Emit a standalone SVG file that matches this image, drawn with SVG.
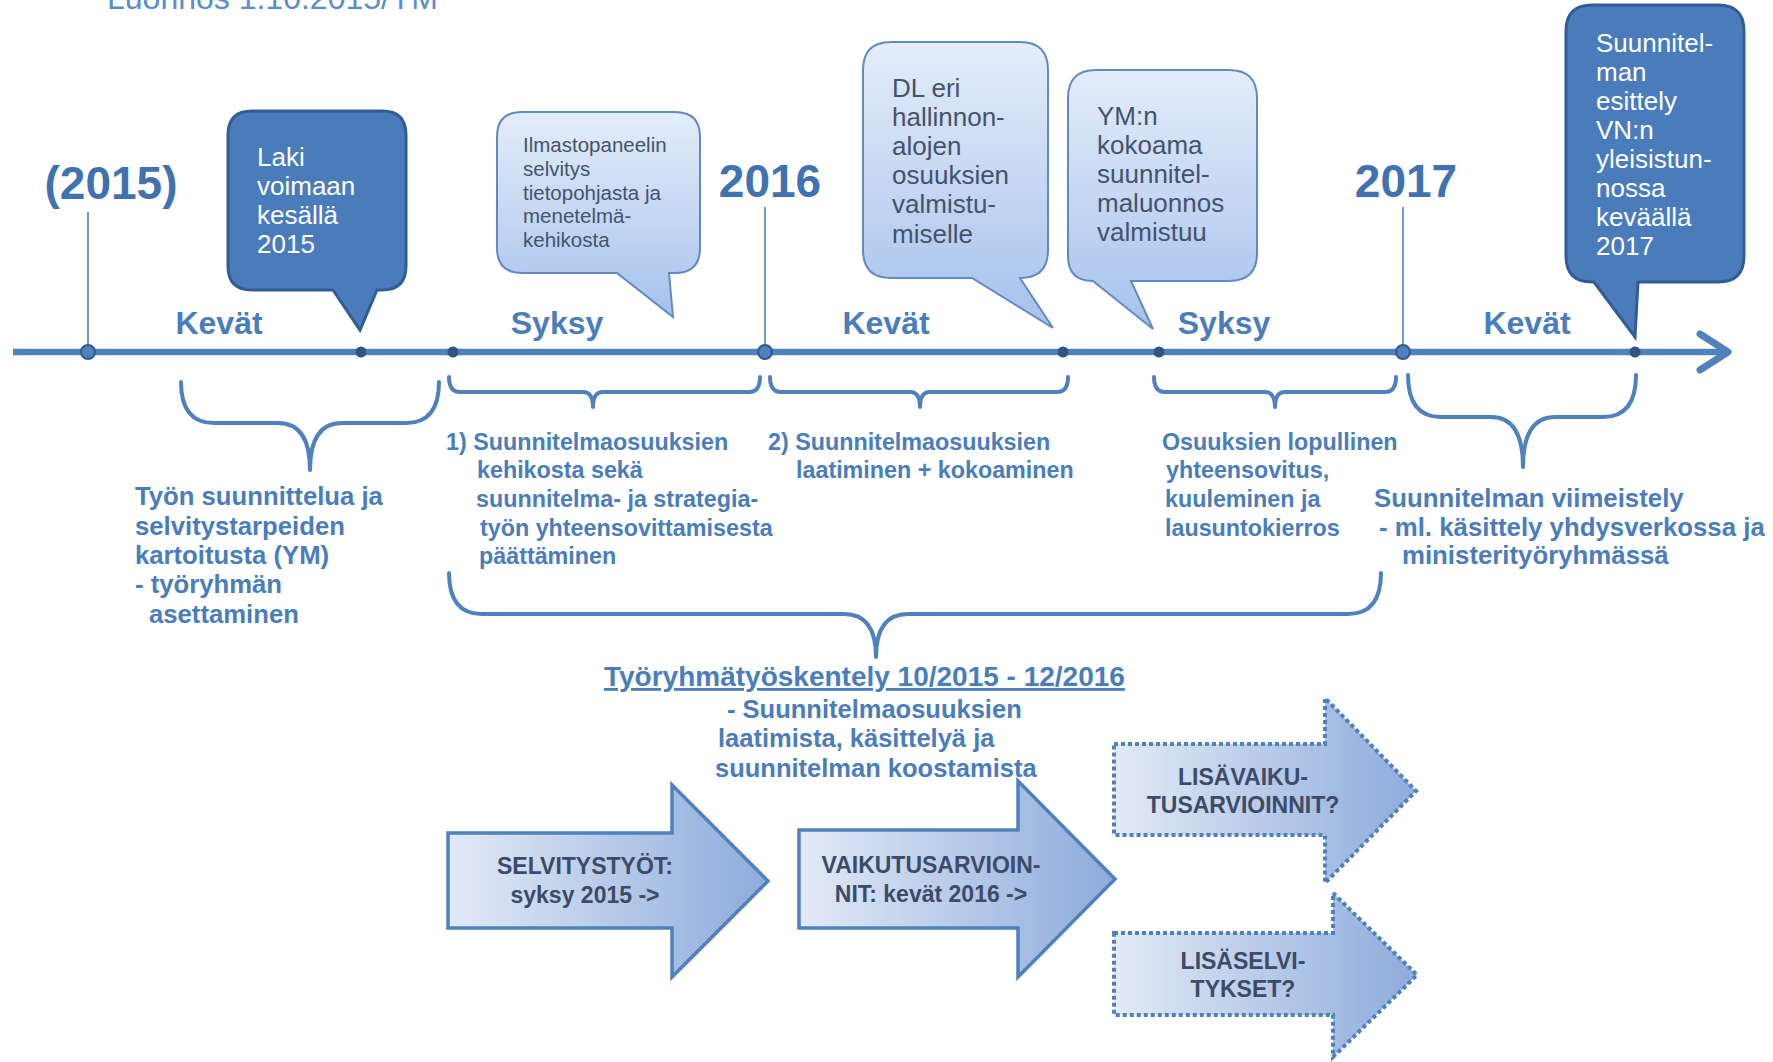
<svg xmlns="http://www.w3.org/2000/svg" width="1773" height="1062" viewBox="0 0 1773 1062">
<defs>
<linearGradient id="lightFill" x1="0" y1="0" x2="0" y2="1">
<stop offset="0" stop-color="#e4edfa"/>
<stop offset="1" stop-color="#a6c1ec"/>
</linearGradient>
<linearGradient id="arrowFill" x1="0" y1="0" x2="1" y2="0">
<stop offset="0" stop-color="#e2eaf6"/>
<stop offset="1" stop-color="#8eabdc"/>
</linearGradient>
<style>
.lbl{font-family:"Liberation Sans",Arial,sans-serif;font-weight:bold;fill:#4a7dba}
.year{font-family:"Liberation Sans",Arial,sans-serif;font-weight:bold;font-size:46px;fill:#4172b0;text-anchor:middle}
.season{font-family:"Liberation Sans",Arial,sans-serif;font-weight:bold;font-size:32px;fill:#4a7dba;text-anchor:middle}
.dark{fill:#4a7cbc;stroke:#335c96;stroke-width:3}
.light{fill:url(#lightFill);stroke:#6389c2;stroke-width:2}
.ctxt{font-family:"Liberation Sans",Arial,sans-serif;font-size:26px}
.wtxt{fill:#ffffff}
.gtxt{fill:#44536d}
.brace{fill:none;stroke:#4f81bd;stroke-width:4;stroke-linecap:round;stroke-linejoin:round}
.barrow{fill:url(#arrowFill);stroke:#4f81bd;stroke-width:3.5}
.darrow{fill:url(#arrowFill);stroke:#4f81bd;stroke-width:4;stroke-dasharray:4 3}
.atxt{font-family:"Liberation Sans",Arial,sans-serif;font-weight:bold;font-size:23px;fill:#3c4b68;text-anchor:middle}
.vline{stroke:#4f81bd;stroke-width:1.6}
.bigdot{fill:#4f81bd;stroke:#2f5a8f;stroke-width:2}
.smdot{fill:#2f5585}
</style>
</defs>

<text x="107" y="9" font-family="Liberation Sans, Arial, sans-serif" font-size="32" fill="#5b8dcb">Luonnos 1.10.2015/YM</text>

<g id="timeline">
<line x1="13" y1="352" x2="1724" y2="352" stroke="#4f81bd" stroke-width="6.5"/>
<polyline points="1700,334 1728,352 1700,370" fill="none" stroke="#4f81bd" stroke-width="7" stroke-linecap="round" stroke-linejoin="round"/>
<line class="vline" x1="88" y1="212" x2="88" y2="347"/>
<line class="vline" x1="765" y1="207" x2="765" y2="347"/>
<line class="vline" x1="1403" y1="207" x2="1403" y2="347"/>
<circle class="bigdot" cx="88" cy="352" r="7"/>
<circle class="bigdot" cx="765" cy="352" r="7"/>
<circle class="bigdot" cx="1403" cy="352" r="7"/>
<circle class="smdot" cx="361" cy="352" r="5.5"/>
<circle class="smdot" cx="453" cy="352" r="5.5"/>
<circle class="smdot" cx="1063" cy="352" r="5.5"/>
<circle class="smdot" cx="1159" cy="352" r="5.5"/>
<circle class="smdot" cx="1635" cy="352" r="5.5"/>
<text class="year" x="111" y="199">(2015)</text>
<text class="year" x="770" y="197">2016</text>
<text class="year" x="1406" y="197">2017</text>
<text class="season" x="219" y="334">Kevät</text>
<text class="season" x="557" y="334">Syksy</text>
<text class="season" x="886" y="334">Kevät</text>
<text class="season" x="1224" y="334">Syksy</text>
<text class="season" x="1527" y="334">Kevät</text>
</g>

<g id="callout-laki">
<path class="dark" d="M252,111 H382 Q406,111 406,135 V266 Q406,290 382,290 H377 L360,330 L333,290 H252 Q228,290 228,266 V135 Q228,111 252,111 Z"/>
<text class="ctxt wtxt"><tspan x="257" y="166">Laki</tspan><tspan x="257" y="195">voimaan</tspan><tspan x="257" y="224">kesällä</tspan><tspan x="257" y="253">2015</tspan></text>
</g>

<g id="callout-ilmasto">
<path class="light" d="M522,112 H675 Q700,112 700,137 V248 Q700,273 675,273 H669 L673,317 L617,273 H522 Q497,273 497,248 V137 Q497,112 522,112 Z"/>
<text font-family="Liberation Sans, Arial, sans-serif" font-size="20.5" class="gtxt"><tspan x="523" y="152">Ilmastopaneelin</tspan><tspan x="523" y="176">selvitys</tspan><tspan x="523" y="200">tietopohjasta ja</tspan><tspan x="523" y="223">menetelmä-</tspan><tspan x="523" y="247">kehikosta</tspan></text>
</g>

<g id="callout-dl">
<path class="light" d="M891,42 H1020 Q1048,42 1048,70 V250 Q1048,278 1020,278 L1053,328 L972,278 H891 Q863,278 863,250 V70 Q863,42 891,42 Z"/>
<text class="ctxt gtxt"><tspan x="892" y="97">DL eri</tspan><tspan x="892" y="126">hallinnon-</tspan><tspan x="892" y="155">alojen</tspan><tspan x="892" y="184">osuuksien</tspan><tspan x="892" y="213">valmistu-</tspan><tspan x="892" y="243">miselle</tspan></text>
</g>

<g id="callout-ym">
<path class="light" d="M1096,70 H1229 Q1257,70 1257,98 V253 Q1257,281 1229,281 H1131 L1153,329 L1093,281 Q1068,281 1068,256 V98 Q1068,70 1096,70 Z"/>
<text class="ctxt gtxt"><tspan x="1097" y="125">YM:n</tspan><tspan x="1097" y="154">kokoama</tspan><tspan x="1097" y="183">suunnitel-</tspan><tspan x="1097" y="212">maluonnos</tspan><tspan x="1097" y="241">valmistuu</tspan></text>
</g>

<g id="callout-esittely">
<path class="dark" d="M1592,5 H1718 Q1744,5 1744,31 V256 Q1744,282 1718,282 H1638 L1635,337 L1594,282 H1592 Q1566,282 1566,256 V31 Q1566,5 1592,5 Z"/>
<text class="ctxt wtxt"><tspan x="1596" y="52">Suunnitel-</tspan><tspan x="1596" y="81">man</tspan><tspan x="1596" y="110">esittely</tspan><tspan x="1596" y="139">VN:n</tspan><tspan x="1596" y="168">yleisistun-</tspan><tspan x="1596" y="197">nossa</tspan><tspan x="1596" y="226">keväällä</tspan><tspan x="1596" y="255">2017</tspan></text>
</g>

<g id="braces">
<path class="brace" d="M181,382 Q181,423 214,423 H278 Q310,423 310,470 Q310,423 342,423 H406 Q439,423 439,382"/>
<path class="brace" d="M449,377 Q449,392 460,392 H583 Q593,392 593,407 Q593,392 603,392 H749 Q760,392 760,377"/>
<path class="brace" d="M770,377 Q770,392 781,392 H910 Q920,392 920,407 Q920,392 930,392 H1057 Q1068,392 1068,377"/>
<path class="brace" d="M1154,377 Q1154,392 1165,392 H1265 Q1275,392 1275,407 Q1275,392 1285,392 H1385 Q1396,392 1396,377"/>
<path class="brace" d="M1408,375 Q1408,417 1441,417 H1491 Q1523,417 1523,467 Q1523,417 1555,417 H1603 Q1636,417 1636,375"/>
<path class="brace" d="M449,573 Q449,614 482,614 H844 Q876,614 876,657 Q876,614 908,614 H1348 Q1381,614 1381,573"/>
</g>

<g id="text-a">
<text class="lbl" font-size="25.7"><tspan x="135" y="505">Työn suunnittelua ja</tspan><tspan x="135" y="535">selvitystarpeiden</tspan><tspan x="135" y="564">kartoitusta (YM)</tspan><tspan x="135" y="593">- työryhmän</tspan><tspan x="149" y="623">asettaminen</tspan></text>
</g>
<g id="text-b">
<text class="lbl" font-size="23.3"><tspan x="446" y="450">1) Suunnitelmaosuuksien</tspan><tspan x="477" y="478">kehikosta sekä</tspan><tspan x="476" y="507">suunnitelma- ja strategia-</tspan><tspan x="480" y="536">työn yhteensovittamisesta</tspan><tspan x="479" y="564">päättäminen</tspan></text>
</g>
<g id="text-c">
<text class="lbl" font-size="23.3"><tspan x="768" y="450">2) Suunnitelmaosuuksien</tspan><tspan x="796" y="478">laatiminen + kokoaminen</tspan></text>
</g>
<g id="text-d">
<text class="lbl" font-size="23.3"><tspan x="1162" y="450">Osuuksien lopullinen</tspan><tspan x="1166" y="478">yhteensovitus,</tspan><tspan x="1165" y="507">kuuleminen ja</tspan><tspan x="1165" y="536">lausuntokierros</tspan></text>
</g>
<g id="text-e">
<text class="lbl" font-size="25.8"><tspan x="1374" y="507">Suunnitelman viimeistely</tspan><tspan x="1379" y="536">- ml. käsittely yhdysverkossa ja</tspan><tspan x="1402" y="564">ministerityöryhmässä</tspan></text>
</g>
<g id="text-work">
<text class="lbl" font-size="28" x="604" y="686" text-decoration="underline">Työryhmätyöskentely 10/2015 - 12/2016</text>
<text class="lbl" font-size="25.5"><tspan x="727" y="718">- Suunnitelmaosuuksien</tspan><tspan x="718" y="747">laatimista, käsittelyä ja</tspan><tspan x="715" y="777">suunnitelman koostamista</tspan></text>
</g>

<g id="arrow-selvitys">
<path class="barrow" d="M448,833 H672 V785 L768,881 L672,977 V928 H448 Z"/>
<text class="atxt"><tspan x="585" y="874">SELVITYSTYÖT:</tspan><tspan x="585" y="903">syksy 2015 -&gt;</tspan></text>
</g>
<g id="arrow-vaikutus">
<path class="barrow" d="M799,830 H1018 V781 L1115,879 L1018,977 V928 H799 Z"/>
<text class="atxt"><tspan x="931" y="873">VAIKUTUSARVIOIN-</tspan><tspan x="931" y="902">NIT: kevät 2016 -&gt;</tspan></text>
</g>
<g id="arrow-lisavaiku">
<path class="darrow" d="M1114,744 H1325 V698 L1416,791 L1325,883 V835 H1114 Z"/>
<text class="atxt"><tspan x="1243" y="785">LISÄVAIKU-</tspan><tspan x="1243" y="813">TUSARVIOINNIT?</tspan></text>
</g>
<g id="arrow-lisaselvi">
<path class="darrow" d="M1114,933 H1333 V893 L1417,975 L1333,1057 V1015 H1114 Z"/>
<text class="atxt"><tspan x="1243" y="969">LISÄSELVI-</tspan><tspan x="1243" y="997">TYKSET?</tspan></text>
</g>
</svg>
